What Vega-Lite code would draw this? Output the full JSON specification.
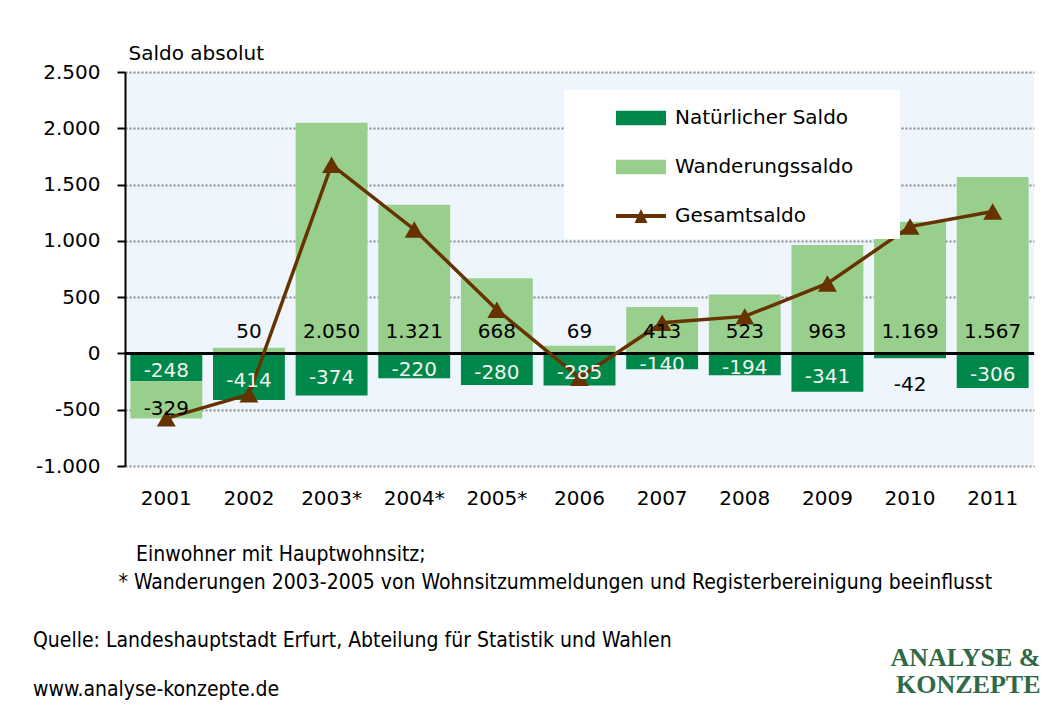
{
  "$schema": "https://vega.github.io/schema/vega-lite/v6.json",
  "width": 909,
  "height": 394,
  "autosize": "none",
  "padding": {"left": 125, "top": 72, "right": 23, "bottom": 250},
  "background": "white",
  "config": {
    "locale": {"number": {"decimal": ",", "thousands": ".", "grouping": [3], "currency": ["", " €"], "minus": "-"}},
    "font": "DejaVu Sans",
    "view": {"fill": "#EEF5FD", "stroke": null}
  },
  "title": {
    "text": "Quelle: Landeshauptstadt Erfurt, Abteilung für Statistik und Wahlen",
    "subtitle": "www.analyse-konzepte.de",
    "orient": "bottom",
    "anchor": "start",
    "frame": "group",
    "dx": -92,
    "offset": -67,
    "font": "DejaVu Sans Condensed",
    "fontSize": 21,
    "fontWeight": "normal",
    "color": "black",
    "subtitleFont": "DejaVu Sans Condensed",
    "subtitleFontSize": 21,
    "subtitleColor": "black",
    "subtitlePadding": 28
  },
  "data": {
    "values": [
      {"Jahr": "2001", "Natürlicher Saldo": -248, "Wanderungssaldo": -329, "Gesamtsaldo": -577},
      {"Jahr": "2002", "Natürlicher Saldo": -414, "Wanderungssaldo": 50, "Gesamtsaldo": -364},
      {"Jahr": "2003*", "Natürlicher Saldo": -374, "Wanderungssaldo": 2050, "Gesamtsaldo": 1676},
      {"Jahr": "2004*", "Natürlicher Saldo": -220, "Wanderungssaldo": 1321, "Gesamtsaldo": 1101},
      {"Jahr": "2005*", "Natürlicher Saldo": -280, "Wanderungssaldo": 668, "Gesamtsaldo": 388},
      {"Jahr": "2006", "Natürlicher Saldo": -285, "Wanderungssaldo": 69, "Gesamtsaldo": -216},
      {"Jahr": "2007", "Natürlicher Saldo": -140, "Wanderungssaldo": 413, "Gesamtsaldo": 273},
      {"Jahr": "2008", "Natürlicher Saldo": -194, "Wanderungssaldo": 523, "Gesamtsaldo": 329},
      {"Jahr": "2009", "Natürlicher Saldo": -341, "Wanderungssaldo": 963, "Gesamtsaldo": 622},
      {"Jahr": "2010", "Natürlicher Saldo": -42, "Wanderungssaldo": 1169, "Gesamtsaldo": 1127},
      {"Jahr": "2011", "Natürlicher Saldo": -306, "Wanderungssaldo": 1567, "Gesamtsaldo": 1261}
    ]
  },
  "layer": [
    {
      "layer": [
        {
          "transform": [{"fold": ["Natürlicher Saldo", "Wanderungssaldo"], "as": ["Saldo", "Wert"]}],
          "mark": {"type": "bar"},
          "encoding": {
            "x": {
              "field": "Jahr", "type": "nominal", "sort": null,
              "scale": {"paddingInner": 0.13, "paddingOuter": 0.065},
              "axis": {
                "title": ["\u2800\u2009Einwohner mit Hauptwohnsitz;", "* Wanderungen 2003-2005 von Wohnsitzummeldungen und Registerbereinigung beeinflusst"],
                "labelAngle": 0, "labelFontSize": 20, "labelColor": "black", "labelPadding": 22,
                "domain": false, "ticks": false,
                "titleX": -7, "titleY": 77, "titleAlign": "left", "titleBaseline": "top", "titleAnchor": "start",
                "titleFont": "DejaVu Sans Condensed", "titleFontSize": 21, "titleFontWeight": "normal",
                "titleColor": "black", "titleLineHeight": 28
              }
            },
            "y": {
              "field": "Wert", "type": "quantitative", "stack": "zero",
              "scale": {"domain": [-1000, 2500], "nice": false},
              "axis": {
                "values": [-1000, -500, 0, 500, 1000, 1500, 2000, 2500], "format": ",d",
                "title": "Saldo absolut", "titleAngle": 0, "titleAlign": "left", "titleX": 3, "titleY": -13,
                "titleBaseline": "alphabetic", "titleFontSize": 20, "titleFontWeight": "normal", "titleColor": "black",
                "labelFontSize": 20, "labelColor": "black", "labelPadding": 17,
                "tickSize": 8, "tickWidth": 2, "tickColor": "black",
                "domainColor": "black", "domainWidth": 2,
                "grid": true, "gridColor": "#8c8c8c", "gridDash": [2, 2], "gridWidth": 2
              }
            },
            "color": {
              "field": "Saldo", "type": "nominal",
              "scale": {"domain": ["Natürlicher Saldo", "Wanderungssaldo", "Gesamtsaldo"], "range": ["#00884A", "#99CF8C", "#663300"]},
              "legend": {
                "orient": "none", "legendX": 439, "legendY": 18, "direction": "vertical", "title": null,
                "fillColor": "white", "padding": 13, "symbolSize": 900, "symbolOffset": 49, "labelOffset": 19,
                "rowPadding": 24, "labelFontSize": 20, "labelFont": "DejaVu Sans", "labelColor": "black", "labelLimit": 500,
                "labelExpr": "datum.label + '\u2009\u2800\u2800'",
                "symbolStrokeWidth": 0, "symbolOpacity": 1,
                "encode": {"symbols": {"update": {"shape": {"signal": "datum.value === 'Gesamtsaldo' ? 'M-1.667,-0.13H1.667V0.13H-1.667Z M-0.43,0.47L0,-0.47L0.43,0.47Z' : 'M-1.667,-0.48H1.667V0.48H-1.667Z'"}}}}
              }
            },
            "order": {"field": "Saldo", "sort": "ascending"}
          }
        },
        {
          "mark": {"type": "rule", "color": "black", "strokeWidth": 2},
          "encoding": {"y": {"datum": 0}}
        }
      ]
    },
    {
      "mark": {"type": "line", "color": "#663300", "strokeWidth": 3.5, "point": {"shape": "triangle-up", "size": 360, "filled": true, "color": "#663300"}},
      "encoding": {
        "x": {"field": "Jahr", "type": "nominal", "sort": null},
        "y": {
          "field": "Gesamtsaldo", "type": "quantitative",
          "scale": {"domain": [-1000, 2500], "nice": false},
          "axis": {
            "orient": "right", "domain": false, "ticks": false, "labels": false, "grid": false,
            "title": ["ANALYSE &", "KONZEPTE"], "titleAngle": 0, "titleAlign": "right", "titleX": 6, "titleY": 593,
            "titleBaseline": "alphabetic", "titleFont": "Liberation Serif", "titleFontSize": 26, "titleFontWeight": "bold",
            "titleColor": "#2F6A45", "titleLineHeight": 27
          }
        }
      }
    },
    {
      "layer": [
        {
          "transform": [{"calculate": "datum['Natürlicher Saldo'] < -100 ? datum['Natürlicher Saldo'] / 2 : datum['Natürlicher Saldo'] - 200", "as": "yNat"}],
          "mark": {"type": "text", "fontSize": 20, "dy": 4},
          "encoding": {
            "x": {"field": "Jahr", "type": "nominal", "sort": null},
            "y": {"field": "yNat", "type": "quantitative", "scale": {"domain": [-1000, 2500], "nice": false}, "axis": null},
            "text": {"field": "Natürlicher Saldo", "type": "quantitative", "format": ",d"},
            "color": {"condition": {"test": "datum['Natürlicher Saldo'] < -100", "value": "#F2F2F2"}, "value": "black"}
          }
        },
        {
          "transform": [{"calculate": "datum['Wanderungssaldo'] > 0 ? 190 : datum['Natürlicher Saldo'] + datum['Wanderungssaldo'] / 2 - 80", "as": "yMig"}],
          "mark": {"type": "text", "fontSize": 20, "color": "black"},
          "encoding": {
            "x": {"field": "Jahr", "type": "nominal", "sort": null},
            "y": {"field": "yMig", "type": "quantitative", "scale": {"domain": [-1000, 2500], "nice": false}, "axis": null},
            "text": {"field": "Wanderungssaldo", "type": "quantitative", "format": ",d"}
          }
        }
      ]
    }
  ],
  "resolve": {"scale": {"y": "independent"}}
}
